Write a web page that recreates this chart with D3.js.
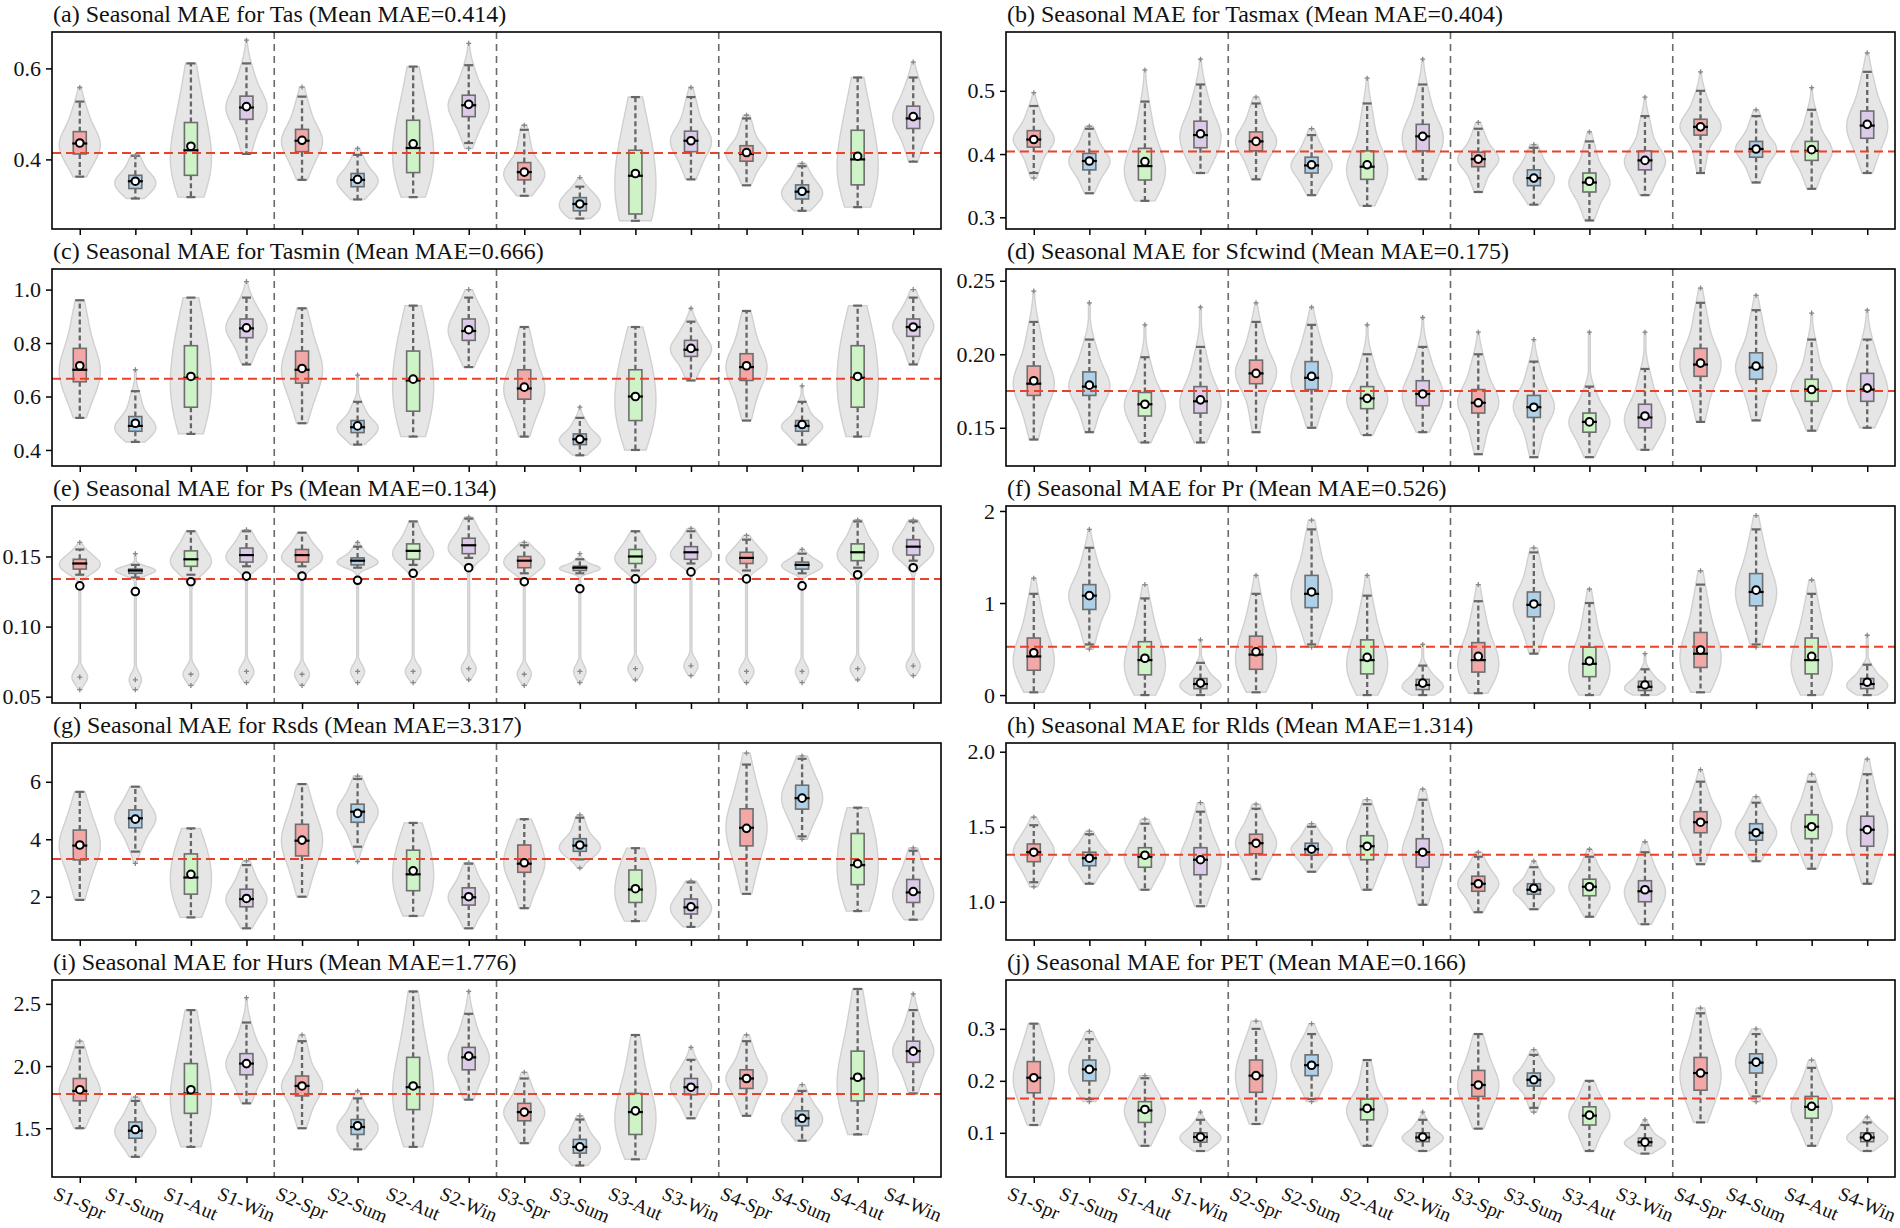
<!DOCTYPE html>
<html><head><meta charset="utf-8">
<script src="https://cdn.jsdelivr.net/npm/d3@7"></script>
<style>
body{margin:0;background:#fff}
svg{display:block}
svg text{font-family:'Liberation Serif','Times New Roman',Times,serif !important;fill:#111}
</style>
</head><body>
<svg id="chart" width="1900" height="1228" font-family="Liberation Serif"></svg>
<script>
// ---------------- DATA ----------------
const categories = ["S1-Spr","S1-Sum","S1-Aut","S1-Win","S2-Spr","S2-Sum","S2-Aut","S2-Win",
                    "S3-Spr","S3-Sum","S3-Aut","S3-Win","S4-Spr","S4-Sum","S4-Aut","S4-Win"];
const seasonColors = ["#f2a8a6","#aed0e8","#cdf3c6","#dccbe8"];
const panelTitles = [
  "(a) Seasonal MAE for Tas (Mean MAE=0.414)",
  "(b) Seasonal MAE for Tasmax (Mean MAE=0.404)",
  "(c) Seasonal MAE for Tasmin (Mean MAE=0.666)",
  "(d) Seasonal MAE for Sfcwind (Mean MAE=0.175)",
  "(e) Seasonal MAE for Ps (Mean MAE=0.134)",
  "(f) Seasonal MAE for Pr (Mean MAE=0.526)",
  "(g) Seasonal MAE for Rsds (Mean MAE=3.317)",
  "(h) Seasonal MAE for Rlds (Mean MAE=1.314)",
  "(i) Seasonal MAE for Hurs (Mean MAE=1.776)",
  "(j) Seasonal MAE for PET (Mean MAE=0.166)"
];
const meanMAE = [0.414,0.404,0.666,0.175,0.134,0.526,3.317,1.314,1.776,0.166];
const yDomains = [[0.247,0.68],[0.2815,0.593],[0.34,1.077],[0.124,0.258],[0.0455,0.186],
                  [-0.086,2.054],[0.494,7.35],[0.745,2.058],[1.108,2.692],[0.015,0.394]];
const yTickValues = [[0.4,0.6],[0.3,0.4,0.5],[0.4,0.6,0.8,1.0],[0.15,0.20,0.25],[0.05,0.10,0.15],
                     [0,1,2],[2,4,6],[1.0,1.5,2.0],[1.5,2.0,2.5],[0.1,0.2,0.3]];
const yTickFormats = [".1f",".1f",".1f",".2f",".2f","d","d",".1f",".1f",".1f"];

// each violin: [violinMin, whiskerLow, Q1, median, Q3, whiskerHigh, violinMax, mean]
const tasStats = [
 [0.362,0.362,0.412,0.435,0.461,0.527,0.558,0.436],[0.314,0.314,0.336,0.352,0.365,0.408,0.409,0.352],
 [0.317,0.317,0.365,0.420,0.481,0.611,0.611,0.429],[0.412,0.412,0.488,0.514,0.539,0.611,0.662,0.516],
 [0.355,0.355,0.417,0.441,0.466,0.538,0.559,0.442],[0.312,0.312,0.340,0.355,0.369,0.410,0.424,0.356],
 [0.317,0.317,0.371,0.425,0.486,0.604,0.604,0.434],[0.424,0.436,0.494,0.519,0.541,0.607,0.655,0.521],
 [0.320,0.320,0.355,0.372,0.393,0.465,0.475,0.372],[0.270,0.270,0.287,0.302,0.316,0.340,0.360,0.302],
 [0.265,0.265,0.280,0.364,0.420,0.537,0.537,0.369],[0.356,0.356,0.417,0.441,0.462,0.537,0.558,0.441],
 [0.343,0.343,0.396,0.412,0.430,0.490,0.497,0.415],[0.287,0.287,0.313,0.329,0.344,0.385,0.391,0.330],
 [0.295,0.295,0.344,0.400,0.464,0.580,0.580,0.407],[0.395,0.395,0.468,0.490,0.517,0.580,0.614,0.494]];
const tasmaxStats = [
 [0.362,0.370,0.411,0.423,0.437,0.476,0.497,0.423],[0.338,0.338,0.375,0.389,0.401,0.440,0.444,0.389],
 [0.326,0.326,0.359,0.381,0.409,0.483,0.533,0.388],[0.370,0.370,0.410,0.430,0.452,0.510,0.550,0.432],
 [0.360,0.360,0.405,0.420,0.435,0.480,0.490,0.420],[0.335,0.335,0.370,0.382,0.395,0.430,0.440,0.383],
 [0.318,0.318,0.360,0.380,0.405,0.480,0.520,0.383],[0.360,0.360,0.405,0.428,0.447,0.510,0.550,0.428],
 [0.340,0.340,0.380,0.392,0.403,0.440,0.450,0.392],[0.320,0.320,0.350,0.362,0.375,0.410,0.415,0.362],
 [0.295,0.295,0.340,0.355,0.370,0.420,0.435,0.357],[0.335,0.335,0.375,0.390,0.405,0.460,0.490,0.390],
 [0.370,0.370,0.430,0.443,0.455,0.500,0.530,0.443],[0.355,0.355,0.395,0.408,0.420,0.460,0.470,0.408],
 [0.345,0.345,0.390,0.405,0.420,0.470,0.505,0.407],[0.370,0.370,0.425,0.445,0.468,0.530,0.560,0.447]];
const tasminStats = [
 [0.52,0.52,0.655,0.70,0.78,0.96,0.96,0.715],[0.43,0.43,0.47,0.49,0.525,0.62,0.70,0.50],
 [0.46,0.46,0.56,0.67,0.79,0.97,0.97,0.675],[0.72,0.72,0.82,0.855,0.89,0.97,1.03,0.857],
 [0.50,0.50,0.65,0.70,0.77,0.93,0.93,0.705],[0.42,0.42,0.465,0.485,0.51,0.58,0.68,0.49],
 [0.45,0.45,0.545,0.66,0.77,0.94,0.94,0.665],[0.71,0.71,0.81,0.845,0.89,0.97,1.00,0.85],
 [0.45,0.45,0.59,0.63,0.70,0.86,0.86,0.635],[0.38,0.38,0.42,0.44,0.46,0.52,0.56,0.44],
 [0.40,0.40,0.51,0.60,0.70,0.86,0.86,0.60],[0.66,0.66,0.75,0.775,0.81,0.88,0.93,0.78],
 [0.51,0.51,0.66,0.71,0.76,0.92,0.92,0.715],[0.42,0.42,0.47,0.49,0.51,0.58,0.64,0.495],
 [0.45,0.45,0.56,0.67,0.79,0.94,0.94,0.675],[0.72,0.72,0.825,0.86,0.89,0.97,1.00,0.86]];
const sfcwindStats = [
 [0.142,0.142,0.172,0.180,0.192,0.222,0.243,0.182],[0.147,0.147,0.172,0.178,0.188,0.210,0.235,0.179],
 [0.140,0.140,0.158,0.166,0.174,0.198,0.220,0.166],[0.140,0.140,0.160,0.168,0.178,0.205,0.232,0.169],
 [0.147,0.147,0.180,0.187,0.196,0.222,0.235,0.187],[0.150,0.150,0.176,0.184,0.195,0.220,0.232,0.185],
 [0.145,0.145,0.163,0.170,0.178,0.200,0.220,0.170],[0.147,0.147,0.165,0.173,0.182,0.205,0.225,0.173],
 [0.132,0.132,0.160,0.167,0.176,0.200,0.215,0.167],[0.130,0.130,0.157,0.164,0.172,0.195,0.210,0.164],
 [0.130,0.130,0.147,0.154,0.160,0.178,0.215,0.154],[0.135,0.135,0.150,0.157,0.166,0.190,0.215,0.158],
 [0.154,0.154,0.185,0.193,0.204,0.235,0.245,0.194],[0.155,0.155,0.183,0.191,0.201,0.230,0.240,0.192],
 [0.148,0.148,0.168,0.176,0.183,0.210,0.228,0.176],[0.150,0.150,0.168,0.176,0.187,0.210,0.230,0.177]];
const psStats = [
 [0.055,0.137,0.141,0.145,0.148,0.155,0.160,0.129],[0.055,0.135,0.138,0.140,0.141,0.144,0.152,0.125],
 [0.058,0.137,0.143,0.148,0.154,0.168,0.168,0.132],[0.060,0.143,0.146,0.151,0.156,0.168,0.169,0.136],
 [0.058,0.143,0.146,0.151,0.155,0.167,0.167,0.136],[0.060,0.142,0.144,0.147,0.149,0.157,0.160,0.133],
 [0.060,0.144,0.148,0.154,0.159,0.175,0.175,0.138],[0.062,0.149,0.152,0.158,0.163,0.177,0.178,0.142],
 [0.058,0.138,0.142,0.147,0.150,0.158,0.160,0.132],[0.060,0.138,0.140,0.142,0.143,0.148,0.152,0.127],
 [0.062,0.140,0.145,0.150,0.155,0.168,0.168,0.134],[0.065,0.145,0.148,0.153,0.157,0.168,0.170,0.139],
 [0.060,0.140,0.145,0.149,0.153,0.162,0.165,0.134],[0.060,0.138,0.141,0.144,0.146,0.152,0.155,0.129],
 [0.062,0.142,0.147,0.153,0.159,0.175,0.176,0.137],[0.065,0.147,0.151,0.157,0.162,0.175,0.176,0.142]];
// low cluster of Ps violins: [centre, relative width]
const psLowClusters = [
 [0.064,0.38],[0.062,0.30],[0.066,0.38],[0.068,0.36],[0.066,0.36],[0.068,0.34],[0.068,0.38],[0.070,0.36],
 [0.066,0.34],[0.068,0.30],[0.070,0.36],[0.072,0.34],[0.068,0.36],[0.068,0.32],[0.070,0.36],[0.072,0.34]];
const prStats = [
 [0.03,0.03,0.27,0.42,0.62,1.10,1.27,0.46],[0.50,0.55,0.93,1.08,1.20,1.60,1.80,1.08],
 [0.00,0.00,0.22,0.38,0.58,1.05,1.20,0.40],[0.00,0.00,0.07,0.12,0.18,0.35,0.60,0.13],
 [0.03,0.03,0.28,0.44,0.64,1.10,1.30,0.47],[0.52,0.55,0.95,1.10,1.30,1.80,1.90,1.12],
 [0.00,0.00,0.23,0.38,0.60,1.08,1.30,0.41],[0.00,0.00,0.06,0.11,0.17,0.32,0.55,0.13],
 [0.02,0.02,0.25,0.38,0.57,1.02,1.20,0.42],[0.45,0.45,0.85,0.98,1.12,1.55,1.60,0.99],
 [0.00,0.00,0.20,0.34,0.52,1.00,1.15,0.37],[0.00,0.00,0.05,0.09,0.15,0.28,0.45,0.11],
 [0.03,0.03,0.30,0.45,0.68,1.20,1.35,0.49],[0.52,0.55,0.97,1.12,1.32,1.80,1.95,1.14],
 [0.00,0.00,0.23,0.38,0.62,1.10,1.25,0.42],[0.00,0.00,0.07,0.12,0.18,0.33,0.65,0.14]];
const rsdsStats = [
 [1.89,1.89,3.28,3.78,4.32,5.65,5.65,3.80],[3.16,3.57,4.40,4.73,5.02,5.83,5.83,4.70],
 [1.28,1.28,2.09,2.67,3.49,4.38,4.38,2.78],[0.90,0.90,1.65,1.92,2.26,3.10,3.25,1.94],
 [2.00,2.00,3.42,3.95,4.52,5.92,5.92,3.97],[3.22,3.74,4.59,4.96,5.22,6.10,6.20,4.90],
 [1.33,1.33,2.21,2.78,3.62,4.57,4.57,2.90],[0.90,0.90,1.71,1.98,2.31,3.15,3.18,2.00],
 [1.60,1.60,2.85,3.15,3.80,4.70,4.70,3.18],[3.00,3.30,3.58,3.78,4.02,4.75,4.85,3.80],
 [1.15,1.15,1.80,2.25,2.93,3.69,3.69,2.28],[0.95,0.95,1.40,1.63,1.92,2.50,2.55,1.65],
 [2.10,2.10,3.77,4.40,5.06,6.60,7.00,4.38],[4.00,4.10,5.05,5.43,5.88,6.80,6.90,5.43],
 [1.50,1.50,2.42,3.10,4.20,5.10,5.10,3.15],[1.20,1.20,1.80,2.15,2.60,3.60,3.70,2.18]];
const rldsStats = [
 [1.10,1.13,1.267,1.33,1.385,1.51,1.563,1.33],[1.12,1.12,1.24,1.29,1.33,1.45,1.47,1.29],
 [1.08,1.08,1.23,1.30,1.36,1.52,1.55,1.31],[0.97,0.97,1.18,1.28,1.36,1.60,1.66,1.28],
 [1.15,1.15,1.32,1.39,1.45,1.62,1.65,1.39],[1.20,1.20,1.31,1.35,1.39,1.50,1.52,1.35],
 [1.08,1.08,1.28,1.37,1.44,1.65,1.68,1.37],[0.98,0.98,1.23,1.33,1.42,1.68,1.75,1.33],
 [0.93,0.93,1.07,1.12,1.17,1.30,1.33,1.12],[0.95,0.95,1.05,1.08,1.12,1.23,1.27,1.09],
 [0.90,0.90,1.04,1.10,1.15,1.30,1.35,1.10],[0.85,0.85,1.00,1.07,1.14,1.33,1.40,1.08],
 [1.25,1.25,1.46,1.53,1.60,1.80,1.88,1.53],[1.27,1.27,1.41,1.46,1.52,1.66,1.70,1.46],
 [1.22,1.22,1.42,1.50,1.58,1.80,1.85,1.50],[1.12,1.12,1.37,1.48,1.57,1.85,1.95,1.48]];
const hursStats = [
 [1.50,1.50,1.72,1.80,1.90,2.15,2.20,1.81],[1.27,1.27,1.42,1.48,1.55,1.72,1.75,1.49],
 [1.35,1.35,1.62,1.78,2.02,2.45,2.45,1.81],[1.70,1.70,1.93,2.02,2.10,2.35,2.55,2.02],
 [1.50,1.50,1.76,1.84,1.92,2.20,2.25,1.84],[1.33,1.33,1.45,1.51,1.57,1.74,1.80,1.52],
 [1.35,1.35,1.65,1.83,2.07,2.60,2.60,1.84],[1.73,1.73,1.97,2.07,2.15,2.42,2.60,2.08],
 [1.38,1.38,1.56,1.63,1.70,1.90,1.95,1.63],[1.20,1.20,1.30,1.35,1.41,1.57,1.60,1.35],
 [1.25,1.25,1.45,1.63,1.78,2.25,2.25,1.64],[1.58,1.58,1.77,1.83,1.90,2.05,2.15,1.83],
 [1.60,1.60,1.82,1.90,1.97,2.20,2.25,1.90],[1.40,1.40,1.52,1.58,1.64,1.80,1.85,1.58],
 [1.45,1.45,1.72,1.90,2.12,2.62,2.62,1.91],[1.78,1.78,2.03,2.12,2.20,2.45,2.58,2.12]];
const petStats = [
 [0.115,0.115,0.177,0.206,0.237,0.310,0.310,0.206],[0.160,0.165,0.200,0.222,0.240,0.280,0.295,0.222],
 [0.075,0.075,0.120,0.143,0.160,0.205,0.210,0.145],[0.065,0.065,0.082,0.092,0.100,0.125,0.140,0.092],
 [0.117,0.117,0.178,0.210,0.240,0.300,0.315,0.210],[0.160,0.165,0.210,0.230,0.250,0.290,0.310,0.230],
 [0.075,0.075,0.125,0.145,0.165,0.240,0.240,0.147],[0.065,0.065,0.083,0.091,0.100,0.125,0.140,0.092],
 [0.108,0.108,0.170,0.192,0.220,0.290,0.290,0.192],[0.140,0.148,0.190,0.202,0.215,0.250,0.260,0.202],
 [0.065,0.065,0.115,0.133,0.150,0.200,0.200,0.134],[0.060,0.060,0.075,0.082,0.090,0.115,0.125,0.082],
 [0.120,0.120,0.182,0.215,0.245,0.330,0.340,0.215],[0.160,0.170,0.215,0.235,0.252,0.290,0.300,0.236],
 [0.075,0.075,0.128,0.150,0.170,0.225,0.240,0.151],[0.065,0.065,0.083,0.091,0.100,0.120,0.130,0.092]];

const panelStats = [tasStats,tasmaxStats,tasminStats,sfcwindStats,psStats,prStats,rsdsStats,rldsStats,hursStats,petStats];

// ---------------- LAYOUT ----------------
const FONT = "Liberation Serif";
const svg = d3.select("#chart");
const colX = [52, 1006], panelW = 889, panelH = 197, rowTop0 = 32, rowPitch = 237;

function erf(x){
  const s = x < 0 ? -1 : 1; x = Math.abs(x);
  const t = 1/(1+0.3275911*x);
  const y = 1 - (((((1.061405429*t - 1.453152027)*t) + 1.421413741)*t - 0.284496736)*t + 0.254829592)*t*Math.exp(-x*x);
  return s*y;
}
const Phi = z => 0.5*(1+erf(z/Math.SQRT2));

function violinProfile(st, low){
  const [vmin,wLo,q1,med,q3,wHi,vmax] = st;
  const tailW = 0.015;
  const segs = [];
  const loTail = wLo - vmin > 1e-9, hiTail = vmax - wHi > 1e-9;
  if (loTail) segs.push([vmin,wLo,tailW]);
  segs.push([wLo,q1,0.25-(loTail?tailW:0)]);
  segs.push([q1,med,0.25]);
  segs.push([med,q3,0.25]);
  segs.push([q3,wHi,0.25-(hiTail?tailW:0)]);
  if (hiTail) segs.push([wHi,vmax,tailW]);
  const iqr = q3 - q1;
  const bw = Math.max(iqr*0.55, (wHi-wLo)*0.13);
  const dens = v => {
    let s = 0;
    for (const [a,b,w] of segs){
      if (b - a < 1e-9) continue;
      s += w/(b-a)*(Phi((v-a)/bw) - Phi((v-b)/bw));
    }
    return s;
  };
  const n = 120, pts = [];
  for (let i=0;i<=n;i++){ const v = vmin + (vmax-vmin)*i/n; pts.push({v, d:dens(v)}); }
  let mx = d3.max(pts, p=>p.d);
  pts.forEach(p => p.r = p.d/mx);
  if (low){
    const sd = 0.005;
    pts.forEach(p => { p.r += low[1]*Math.exp(-0.5*((p.v-low[0])/sd)**2); });
    mx = d3.max(pts, p=>p.r);
    pts.forEach(p => p.r = p.r/mx);
  }
  return pts;
}

panelStats.forEach((stats, pi) => {
  const col = pi % 2, row = Math.floor(pi/2);
  const x0 = colX[col], y0 = rowTop0 + row*rowPitch;
  const g = svg.append("g");
  const x = d3.scalePoint().domain(categories).range([x0, x0+panelW]).padding(0.5);
  const y = d3.scaleLinear().domain(yDomains[pi]).range([y0+panelH, y0]);
  const step = x.step();
  const halfW = step*0.37, boxHalf = 6.5, capHalf = 4.5;

  // violins
  stats.forEach((st, i) => {
    const cx = x(categories[i]);
    const prof = violinProfile(st, pi === 4 ? psLowClusters[i] : null);
    const area = d3.area()
      .y(p => y(p.v))
      .x0(p => cx - Math.max(p.r*halfW, 0.9))
      .x1(p => cx + Math.max(p.r*halfW, 0.9))
      .curve(d3.curveBasis);
    g.append("path").attr("d", area(prof))
      .attr("fill","#e6e6e6").attr("stroke","#d0d0d0").attr("stroke-width",1.4);
  });

  // whiskers, caps, fliers, boxes, medians
  stats.forEach((st, i) => {
    const cx = x(categories[i]);
    const [vmin,wLo,q1,med,q3,wHi,vmax] = st;
    const wc = "#666";
    g.append("line").attr("x1",cx).attr("x2",cx).attr("y1",y(q3)).attr("y2",y(wHi))
      .attr("stroke",wc).attr("stroke-width",2.3).attr("stroke-dasharray","5,3");
    g.append("line").attr("x1",cx).attr("x2",cx).attr("y1",y(q1)).attr("y2",y(wLo))
      .attr("stroke",wc).attr("stroke-width",2.3).attr("stroke-dasharray","5,3");
    [wLo,wHi].forEach(v => g.append("line").attr("x1",cx-capHalf).attr("x2",cx+capHalf)
      .attr("y1",y(v)).attr("y2",y(v)).attr("stroke",wc).attr("stroke-width",2.2));
    const fl = [];
    if (vmax - wHi > 1e-9) fl.push(vmax);
    if (wLo - vmin > 1e-9) fl.push(vmin);
    if (pi === 4) fl.push(psLowClusters[i][0]);
    fl.forEach(v => {
      g.append("path").attr("d", `M${cx-2.5},${y(v)}h5M${cx},${y(v)-2.5}v5`)
        .attr("stroke","#888").attr("stroke-width",1.3).attr("fill","none");
    });
    g.append("rect").attr("x",cx-boxHalf).attr("width",2*boxHalf)
      .attr("y",y(q3)).attr("height",Math.max(y(q1)-y(q3),1))
      .attr("fill",seasonColors[i%4]).attr("stroke","#6e6e6e").attr("stroke-width",1.6);
    g.append("line").attr("x1",cx-boxHalf-1).attr("x2",cx+boxHalf+1).attr("y1",y(med)).attr("y2",y(med))
      .attr("stroke","#000").attr("stroke-width",2.2);
  });

  // mean line
  g.append("line").attr("x1",x0).attr("x2",x0+panelW).attr("y1",y(meanMAE[pi])).attr("y2",y(meanMAE[pi]))
    .attr("stroke","#e5432b").attr("stroke-width",2).attr("stroke-dasharray","9,5");

  // separators
  [3,7,11].forEach(k => {
    const sx = (x(categories[k]) + x(categories[k+1]))/2;
    g.append("line").attr("x1",sx).attr("x2",sx).attr("y1",y0).attr("y2",y0+panelH)
      .attr("stroke","#6a6a6a").attr("stroke-width",1.6).attr("stroke-dasharray","7,5");
  });

  // mean markers
  stats.forEach((st, i) => {
    g.append("circle").attr("cx",x(categories[i])).attr("cy",y(st[7])).attr("r",3.8)
      .attr("fill","#fff").attr("stroke","#000").attr("stroke-width",2);
  });

  // frame
  g.append("rect").attr("x",x0).attr("y",y0).attr("width",panelW).attr("height",panelH)
    .attr("fill","none").attr("stroke","#000").attr("stroke-width",1.6);

  // y axis
  const ya = g.append("g").attr("transform",`translate(${x0},0)`)
    .call(d3.axisLeft(y).tickValues(yTickValues[pi]).tickFormat(d3.format(yTickFormats[pi])).tickSize(6).tickPadding(5));
  ya.attr("font-family",FONT);
  ya.select(".domain").remove();
  ya.selectAll(".tick line").attr("stroke","#000").attr("stroke-width",1.5);
  ya.selectAll(".tick text").attr("font-size",22).attr("font-family",FONT).attr("fill","#111");

  // x axis ticks
  const xa = g.append("g").attr("transform",`translate(0,${y0+panelH})`)
    .call(d3.axisBottom(x).tickSize(6).tickFormat(""));
  xa.select(".domain").remove();
  xa.selectAll(".tick line").attr("stroke","#000").attr("stroke-width",1.5);

  // x labels on bottom row
  if (row === 4){
    const ang = 23, rad = ang*Math.PI/180, fs = 19.5, yTop = y0+panelH+8;
    categories.forEach(c => {
      const t = g.append("text").attr("font-size",fs).attr("font-family",FONT).attr("text-anchor","middle")
        .attr("dominant-baseline","central").text(c);
      const w = t.node().getComputedTextLength(), h = fs*0.85;
      const H = w*Math.sin(rad) + h*Math.cos(rad);
      const W = w*Math.cos(rad) + h*Math.sin(rad);
      const cx = Math.min(x(c), 1898 - W/2);
      t.attr("transform",`translate(${cx},${yTop + H/2}) rotate(${ang})`);
    });
  }

  // title
  g.append("text").attr("x",x0+1).attr("y",y0-10).attr("font-size",24).attr("font-family",FONT).text(panelTitles[pi]);
});
</script>
</body></html>
